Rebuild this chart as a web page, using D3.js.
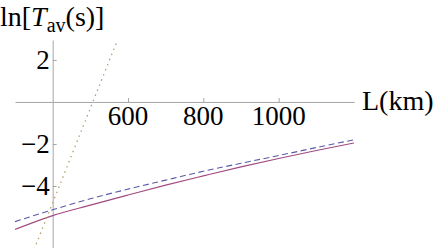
<!DOCTYPE html>
<html>
<head>
<meta charset="utf-8">
<script src="https://cdn.jsdelivr.net/npm/d3@7"></script>
<style>
  body { margin: 0; background: #fff; }
  text { font-family: "Liberation Serif", "DejaVu Serif", serif; }
</style>
</head>
<body>
<div id="plot_div"></div>
<script>
// distance grid (km) and ln of average time for the two slow curves
L_vals = [300, 400, 500, 600, 700, 800, 900, 1000, 1100, 1200];
solid_vals  = [-6.07, -5.41, -4.91, -4.43, -3.96, -3.52, -3.09, -2.69, -2.31, -1.95];
dashed_vals = [-5.70, -5.13, -4.61, -4.15, -3.72, -3.30, -2.92, -2.55, -2.17, -1.80];
// steep dotted curve
dot_L    = [340, 400, 460, 520, 580];
dot_vals = [-7.50, -4.80, -2.10, 0.60, 3.30];

x_ticks = [600, 800, 1000];
y_ticks = [2, -2, -4];
x_tick_labels = ['600', '800', '1000'];
y_tick_labels = ['2', '\u22122', '\u22124'];

w = 436;
h = 248;
axis_color = '#a6a6a6';
solid_color = '#a04a80';
dashed_color = '#5a5aa8';
dotted_color = '#b3a36a';

x = d3.scaleLinear().domain([300, 1200]).range([15, 354]);
y = d3.scaleLinear().domain([-7, 2.95]).range([249, 40]);

svg = d3.select('#plot_div')
  .append('svg')
  .attr('width', w)
  .attr('height', h)
  .attr('display', 'block');

svg.append('clipPath')
  .attr('id', 'clip')
  .append('rect')
  .attr('x', x(300))
  .attr('y', y(2.95))
  .attr('width', x(1200) - x(300))
  .attr('height', y(-7) - y(2.95));

// x axis sits at y = 0, ticks pointing up
svg.append('g')
  .attr('transform', 'translate(0,' + y(0) + ')')
  .call(d3.axisBottom(x).tickValues(x_ticks).tickFormat('')
    .tickSizeInner(-4).tickSizeOuter(0));

// y axis sits at L = 400, ticks pointing right
svg.append('g')
  .attr('transform', 'translate(' + x(400) + ',0)')
  .call(d3.axisLeft(y).tickValues(y_ticks).tickFormat('')
    .tickSizeInner(-4).tickSizeOuter(0));

svg.selectAll('.domain, .tick line')
  .attr('stroke', axis_color);

// tick labels drawn by hand so they keep the serif face
svg.selectAll('.xlab')
  .data(x_ticks)
  .enter()
  .append('text')
  .attr('class', 'xlab')
  .attr('x', function (d) { return x(d); })
  .attr('y', y(0) + 23)
  .attr('text-anchor', 'middle')
  .style('font-size', '27px')
  .text(function (d, i) { return x_tick_labels[i]; });

svg.selectAll('.ylab')
  .data(y_ticks)
  .enter()
  .append('text')
  .attr('class', 'ylab')
  .attr('x', x(400) - 3)
  .attr('y', function (d) { return y(d) + 9; })
  .attr('text-anchor', 'end')
  .style('font-size', '27px')
  .text(function (d, i) { return y_tick_labels[i]; });

line = d3.line()
  .x(function (d) { return x(d[0]); })
  .y(function (d) { return y(d[1]); })
  .curve(d3.curveMonotoneX);

plot_g = svg.append('g').attr('clip-path', 'url(#clip)');

plot_g.append('path')
  .attr('d', line(d3.zip(L_vals, dashed_vals)))
  .attr('fill', 'none')
  .attr('stroke', dashed_color)
  .attr('stroke-width', 1.1)
  .attr('stroke-dasharray', '6,3.5');

plot_g.append('path')
  .attr('d', line(d3.zip(L_vals, solid_vals)))
  .attr('fill', 'none')
  .attr('stroke', solid_color)
  .attr('stroke-width', 1.1);

plot_g.append('path')
  .attr('d', line(d3.zip(dot_L, dot_vals)))
  .attr('fill', 'none')
  .attr('stroke', dotted_color)
  .attr('stroke-width', 1.3)
  .attr('stroke-dasharray', '1.5,4');

// axis labels
title = svg.append('text')
  .attr('x', 0)
  .attr('y', 26)
  .style('font-size', '28px');
title.append('tspan').text('ln[');
title.append('tspan').style('font-style', 'italic').text('T');
title.append('tspan').attr('dy', 6).style('font-size', '20px').text('av');
title.append('tspan').attr('dy', -6).text('(s)]');

svg.append('text')
  .attr('x', 362)
  .attr('y', 110)
  .style('font-size', '28px')
  .text('L(km)');
</script>
</body>
</html>
